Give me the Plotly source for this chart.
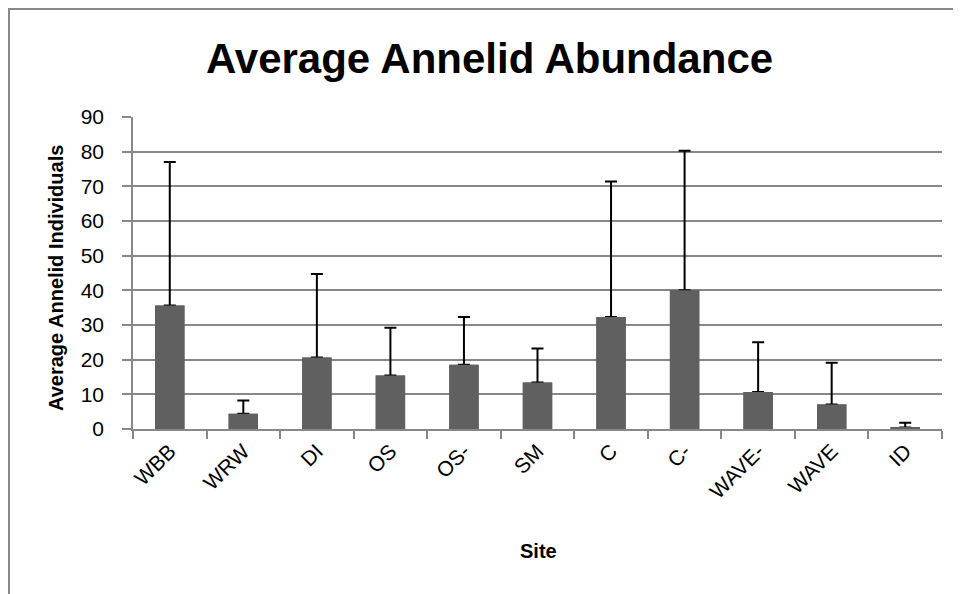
import plotly.graph_objects as go

sites = ["WBB", "WRW", "DI", "OS", "OS-", "SM", "C", "C-", "WAVE-", "WAVE", "ID"]
mean_values = [35.6, 4.4, 20.6, 15.4, 18.5, 13.4, 32.3, 40.0, 10.7, 7.1, 0.4]
error_plus = [41.4, 3.8, 24.1, 13.8, 13.8, 9.8, 39.1, 40.3, 14.3, 12.0, 1.4]
y_ticks = [0, 10, 20, 30, 40, 50, 60, 70, 80, 90]

FONT = "Liberation Sans, Arial, sans-serif"
GRID = "#888888"
BAR = "#606060"

# page body margin offsets the figure by 8px
OFF = 8
W, H = 961, 594
PL, PR, PT, PB = 133, 942, 117, 429  # target plot area in screenshot pixels
L = PL - OFF
T = PT - OFF
pw = PR - PL
ph = PB - PT
R = W - L - pw
B = H - T - ph

def px_x(p):
    return (p - PL) / pw

def px_y(p):
    return (PB - p) / ph

fig = go.Figure()
# bars carrying the upward error bars
fig.add_trace(go.Bar(
    x=sites,
    y=mean_values,
    marker=dict(color=BAR, line=dict(width=0)),
    error_y=dict(type="data", array=error_plus, symmetric=False,
                 arrayminus=[0] * len(sites), color="black", thickness=2, width=6),
    width=0.4,
    hoverinfo="skip",
))
# same bars drawn on top so the lower cap of each error bar is hidden
fig.add_trace(go.Bar(
    x=sites,
    y=mean_values,
    marker=dict(color=BAR, line=dict(width=0)),
    width=0.4,
))

fig.update_layout(
    width=W, height=H,
    barmode="overlay",
    margin=dict(l=L, r=R, t=T, b=B),
    paper_bgcolor="white", plot_bgcolor="white",
    showlegend=False,
    font=dict(family=FONT, color="black", size=21),
    xaxis=dict(
        type="category", range=[-0.5, 10.5],
        tickangle=-45, tickson="boundaries", ticks="outside", ticklen=8,
        tickcolor=GRID, tickwidth=1.5,
        showline=True, linecolor=GRID, linewidth=1.5,
        showgrid=False, tickfont=dict(size=21, family=FONT),
    ),
    yaxis=dict(
        range=[0, 90], tickvals=y_ticks, ticktext=[str(v) for v in y_ticks],
        ticks="outside", ticklen=9, tickcolor=GRID, tickwidth=1.5,
        ticklabelstandoff=14,
        showline=True, linecolor=GRID, linewidth=1.5,
        showgrid=True, gridcolor=GRID, gridwidth=1.5,
        zeroline=False, tickfont=dict(size=21, family=FONT),
    ),
    annotations=[
        dict(text="<b>Average Annelid Abundance</b>", xref="paper", yref="paper",
             x=px_x(489), y=px_y(58), xanchor="center", yanchor="middle",
             showarrow=False, font=dict(size=42, family=FONT)),
        dict(text="<b>Average Annelid Individuals</b>", xref="paper", yref="paper",
             x=px_x(56), y=px_y(278), xanchor="center", yanchor="middle",
             textangle=-90, showarrow=False, font=dict(size=20, family=FONT)),
        dict(text="<b>Site</b>", xref="paper", yref="paper",
             x=px_x(538), y=px_y(551), xanchor="center", yanchor="middle",
             showarrow=False, font=dict(size=20, family=FONT)),
    ],
    shapes=[
        dict(type="rect", xref="paper", yref="paper",
             x0=px_x(OFF + 1), x1=px_x(980), y0=px_y(620), y1=px_y(OFF + 1),
             line=dict(color=GRID, width=2), fillcolor="rgba(0,0,0,0)", layer="below"),
    ],
)

fig.write_html("out.html")
